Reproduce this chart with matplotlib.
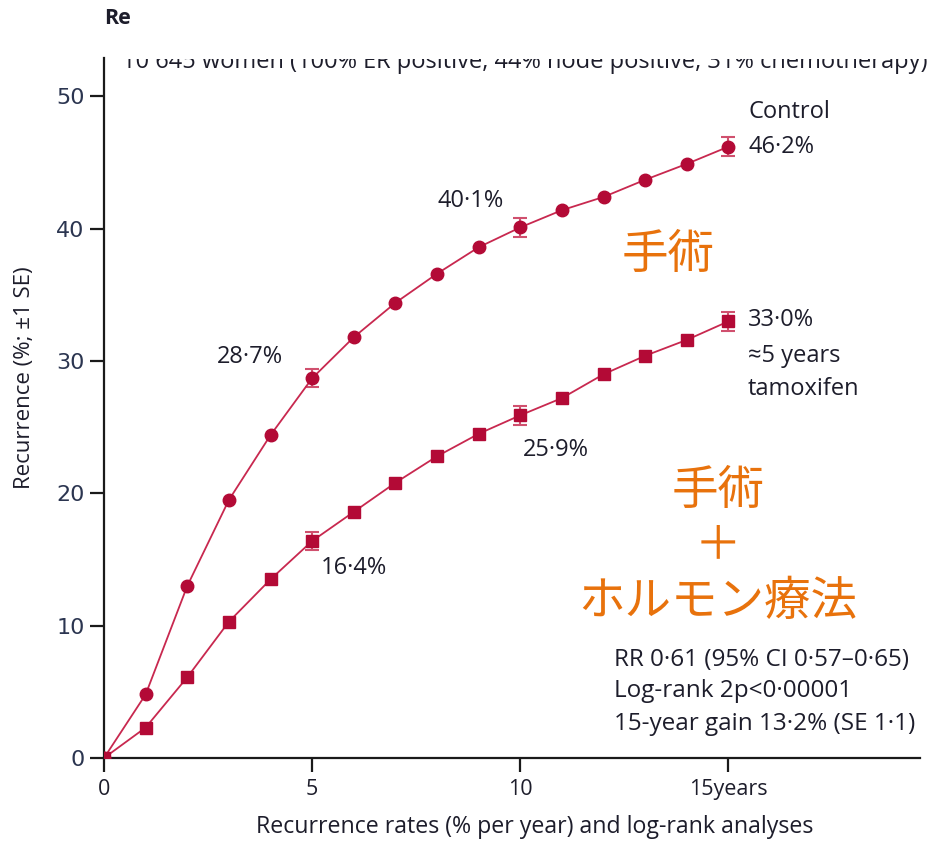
import matplotlib
matplotlib.use("Agg")
import matplotlib.pyplot as plt
from matplotlib.patches import Rectangle

# Cumulative recurrence by year (%)
years = list(range(0, 16))
control = [0, 4.8, 13.0, 19.5, 24.4, 28.7, 31.8, 34.4, 36.6, 38.6,
           40.1, 41.4, 42.4, 43.7, 44.9, 46.2]
tamoxifen = [0, 2.3, 6.1, 10.3, 13.5, 16.4, 18.6, 20.8, 22.8, 24.5,
             25.9, 27.2, 29.0, 30.4, 31.6, 33.0]

# Standard-error bars shown at 5, 10 and 15 years
se_years = [5, 10, 15]
control_se = [0.7, 0.7, 0.7]
tamoxifen_se = [0.7, 0.7, 0.7]

x_ticks = [0, 5, 10, 15]
x_tick_labels = ["0", "5", "10", "15years"]
y_ticks = [0, 10, 20, 30, 40, 50]

LINE = "#c8284f"
MARK = "#b30a36"
TXT = "#1d1d2b"
ORANGE = "#e8720c"
SANS = "Open Sans"

fig = plt.figure(figsize=(9.41, 8.44), dpi=100)
ax = fig.add_axes([104 / 941, 1 - 758 / 844, (920 - 104) / 941, (758 - 58) / 844])

ax.plot(years, control, color=LINE, lw=1.3, marker="o", ms=9,
        mfc=MARK, mec=MARK, zorder=3)
ax.plot(years, tamoxifen, color=LINE, lw=1.3, marker="s", ms=9,
        mfc=MARK, mec=MARK, zorder=3)
ax.errorbar(se_years, [control[y] for y in se_years], yerr=control_se,
            fmt="none", ecolor="#d0506e", elinewidth=1.5, capsize=5, capthick=1.5, zorder=2)
ax.errorbar(se_years, [tamoxifen[y] for y in se_years], yerr=tamoxifen_se,
            fmt="none", ecolor="#d0506e", elinewidth=1.5, capsize=5, capthick=1.5, zorder=2)

ax.set_xlim(0, 19.6)
ax.set_ylim(0, 52.9)
for s in ["top", "right"]:
    ax.spines[s].set_visible(False)
for s in ["left", "bottom"]:
    ax.spines[s].set_linewidth(1.6)
    ax.spines[s].set_color("#1a1a1a")

ax.set_xticks(x_ticks)
ax.set_xticklabels(x_tick_labels, family=SANS, fontsize=15.5, color=TXT)
ax.set_yticks(y_ticks)
ax.set_yticklabels([str(v) for v in y_ticks], family="DejaVu Sans", fontsize=16,
                   color="#2b3550")
ax.tick_params(axis="both", direction="out", length=10, width=1.6, color="#1a1a1a")
ax.tick_params(axis="x", pad=5)
ax.tick_params(axis="y", pad=4)

ax.set_ylabel("Recurrence (%; \u00b11 SE)", family=SANS, fontsize=16, color=TXT)
ax.yaxis.set_label_coords(-0.085, 0.544)
ax.set_xlabel("Recurrence rates (% per year) and log-rank analyses",
              family=SANS, fontsize=16.7, color=TXT)
ax.xaxis.set_label_coords(0.528, -0.082)

ann = dict(family=SANS, fontsize=17, color=TXT, ha="left", va="center")
ax.text(15.47, 48.8, "Control", **ann)
ax.text(15.47, 46.15, "46\u00b72%", **ann)
ax.text(8.02, 42.1, "40\u00b71%", **ann)
ax.text(2.72, 30.3, "28\u00b77%", **ann)
ax.text(5.2, 14.35, "16\u00b74%", **ann)
ax.text(10.05, 23.3, "25\u00b79%", **ann)
ax.text(15.47, 33.1, "33\u00b70%", **ann)
ax.text(15.47, 30.4, "\u22485 years", **ann)
ax.text(15.47, 27.9, "tamoxifen", **ann)

stats = dict(family=SANS, fontsize=17.5, color=TXT, ha="left", va="center")
ax.text(12.24, 7.4, "RR 0\u00b761 (95% CI 0\u00b757\u20130\u00b765)", **stats)
ax.text(12.24, 5.06, "Log-rank 2p<0\u00b700001", **stats)
ax.text(12.24, 2.57, "15-year gain 13\u00b72% (SE 1\u00b71)", **stats)

jp = dict(family=["Noto Sans CJK JP", "DejaVu Sans"], fontsize=33.5, color=ORANGE,
          ha="center", va="center")
ax.text(13.56, 38.0, "手術", **jp)
ax.text(14.75, 20.2, "手術", **jp)
ax.text(14.75, 16.1, "＋", **jp)
ax.text(14.75, 11.8, "ホルモン療法", **jp)

# Header: bold panel title and a subtitle whose upper part is cut off
fig.text(104 / 941, 1 - 18 / 844, "Re", family=SANS, fontsize=15.5,
         fontweight="bold", color=TXT, ha="left", va="center")
sub = fig.text(122 / 941, 1 - 62 / 844,
               "10 645 women (100% ER positive, 44% node positive, 31% chemotherapy)",
               family=SANS, fontsize=17, color=TXT, ha="left", va="center")
sub.set_clip_path(Rectangle((0, 0), 941, 844 - 59, transform=None))

fig.savefig("out.png", dpi=100, facecolor="white")
